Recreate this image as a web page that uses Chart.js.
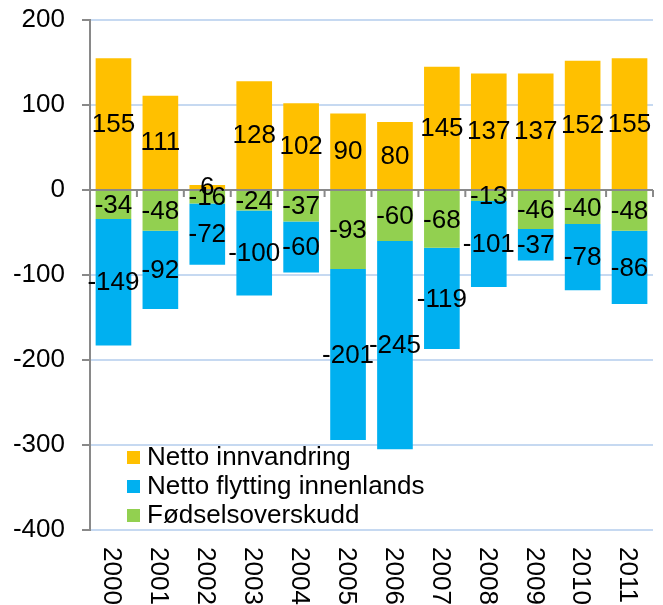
<!DOCTYPE html>
<html>
<head>
<meta charset="utf-8">
<script src="https://cdn.jsdelivr.net/npm/chart.js@4.4.7/dist/chart.umd.min.js"></script>
<style>
  body { margin: 0; background: #fff; }
  #wrap { width: 663px; height: 605px; }
</style>
</head>
<body>
<div id="wrap"><canvas id="chart" width="663" height="605"></canvas></div>
<script>
// Values
const years = ['2000', '2001', '2002', '2003', '2004', '2005', '2006', '2007', '2008', '2009', '2010', '2011'];
const innvandring = [155, 111, 6, 128, 102, 90, 80, 145, 137, 137, 152, 155];
const fodselsoverskudd = [-34, -48, -16, -24, -37, -93, -60, -68, -13, -46, -40, -48];
const flyttingInnenlands = [-149, -92, -72, -100, -60, -201, -245, -119, -101, -37, -78, -86];
const yTicks = [200, 100, 0, -100, -200, -300, -400];

const FONT = '"Liberation Sans", Arial, sans-serif';
const AXIS_GRAY = '#898989';

// labels in the middle of each bar segment
const segmentLabels = {
    id: 'segmentLabels',
    afterDatasetsDraw(chart) {
        const ctx = chart.ctx;
        ctx.save();
        ctx.font = '26px ' + FONT;
        ctx.fillStyle = '#000';
        ctx.textAlign = 'center';
        ctx.textBaseline = 'middle';
        chart.data.datasets.forEach((ds, i) => {
            const meta = chart.getDatasetMeta(i);
            meta.data.forEach((bar, j) => {
                const y = (bar.y + bar.base) / 2;
                ctx.fillText(String(ds.data[j]), bar.x, y + 1);
            });
        });
        ctx.restore();
    }
};

// gray zero line with small tick marks between categories, drawn over the bars
const zeroAxis = {
    id: 'zeroAxis',
    afterDatasetsDraw(chart) {
        const ctx = chart.ctx;
        const { left, right } = chart.chartArea;
        const y0 = chart.scales.y.getPixelForValue(0);
        const xs = chart.scales.x;
        ctx.save();
        ctx.strokeStyle = AXIS_GRAY;
        ctx.lineWidth = 2;
        ctx.beginPath();
        ctx.moveTo(left, y0);
        ctx.lineTo(right, y0);
        for (let i = 1; i <= years.length; i++) {
            const x = i < years.length
                ? (xs.getPixelForValue(i - 1) + xs.getPixelForValue(i)) / 2
                : right;
            ctx.moveTo(x, y0);
            ctx.lineTo(x, y0 + 7);
        }
        ctx.stroke();
        ctx.restore();
    }
};

// year labels turned clockwise, under the plot
const yearLabels = {
    id: 'yearLabels',
    afterDraw(chart) {
        const ctx = chart.ctx;
        const xs = chart.scales.x;
        const top = chart.chartArea.bottom + 17;
        ctx.save();
        ctx.font = '26px ' + FONT;
        ctx.fillStyle = '#000';
        ctx.textAlign = 'left';
        ctx.textBaseline = 'middle';
        years.forEach((yr, i) => {
            ctx.save();
            ctx.translate(xs.getPixelForValue(i) - 2, top);
            ctx.rotate(Math.PI / 2);
            ctx.fillText(yr, 0, 0);
            ctx.restore();
        });
        ctx.restore();
    }
};

// legend inside the plot, bottom left
const legendOrder = [0, 2, 1];
const insideLegend = {
    id: 'insideLegend',
    afterDraw(chart) {
        const ctx = chart.ctx;
        const { left, bottom } = chart.chartArea;
        ctx.save();
        ctx.font = '26px ' + FONT;
        ctx.textAlign = 'left';
        ctx.textBaseline = 'middle';
        legendOrder.forEach((idx, row) => {
            const ds = chart.data.datasets[idx];
            const cy = bottom - 73 + row * 29;
            ctx.fillStyle = ds.backgroundColor;
            ctx.fillRect(left + 37, cy - 6, 13, 13);
            ctx.fillStyle = '#000';
            ctx.fillText(ds.label, left + 57, cy + 1);
        });
        ctx.restore();
    }
};

new Chart(document.getElementById('chart'), {
    type: 'bar',
    data: {
        labels: years,
        datasets: [
            { label: 'Netto innvandring', data: innvandring, backgroundColor: '#FFC000' },
            { label: 'Fødselsoverskudd', data: fodselsoverskudd, backgroundColor: '#92D050' },
            { label: 'Netto flytting innenlands', data: flyttingInnenlands, backgroundColor: '#00B0F0' }
        ]
    },
    options: {
        responsive: false,
        animation: false,
        layout: { padding: { top: 20, left: 0, right: 10, bottom: 75 } },
        datasets: { bar: { categoryPercentage: 1, barPercentage: 0.76 } },
        plugins: { legend: { display: false }, tooltip: { enabled: false } },
        scales: {
            x: { stacked: true, display: false },
            y: {
                stacked: true,
                min: -400,
                max: 200,
                afterFit(scale) {
                    scale.width = 90;
                    scale.paddingTop = 0;
                    scale.paddingBottom = 0;
                },
                afterBuildTicks(scale) { scale.ticks = yTicks.map(v => ({ value: v })); },
                ticks: {
                    font: { family: FONT, size: 26 },
                    color: '#000',
                    padding: 17
                },
                grid: {
                    color: c => c.tick && c.tick.value === 0 ? AXIS_GRAY : '#C6D9F1',
                    lineWidth: 2,
                    tickColor: AXIS_GRAY,
                    tickLength: 8
                },
                border: { color: AXIS_GRAY, width: 2 }
            }
        }
    },
    plugins: [zeroAxis, segmentLabels, yearLabels, insideLegend]
});
</script>
</body>
</html>
